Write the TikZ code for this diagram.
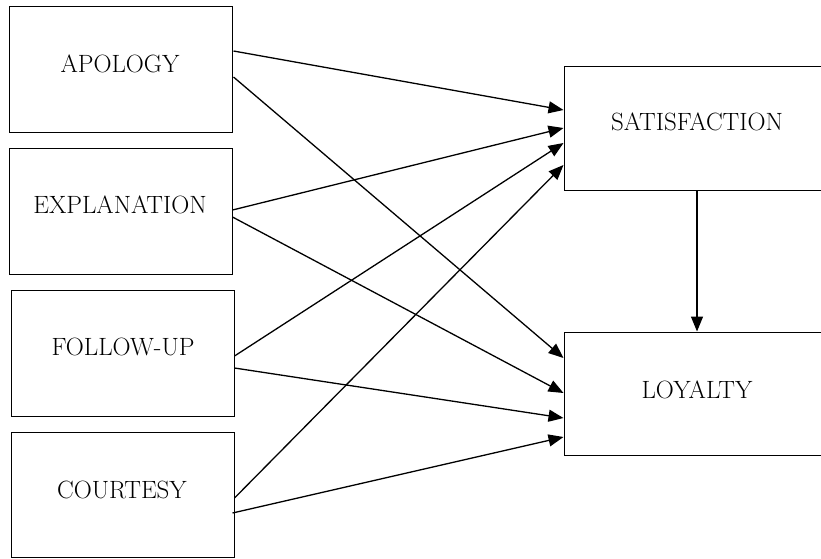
\documentclass[tikz,border=0pt]{standalone}
\usetikzlibrary{arrows.meta}
\begin{document}
\begin{tikzpicture}[x=1pt,y=-1pt,
  box/.style={draw,line width=1pt,rectangle,inner sep=0pt,minimum width=223pt,minimum height=126pt},
  rbox/.style={draw,line width=1pt,rectangle,inner sep=0pt,minimum width=266pt,minimum height=124pt},
  lab/.style={anchor=base,inner sep=0pt,font=\fontsize{25}{30}\selectfont},
  conn/.style={line width=1.3pt,-{Triangle[length=15pt,width=12pt]}}]
\useasboundingbox (0,0) rectangle (821,558);
\clip (0,0) rectangle (821,558);
\fill[white] (0,0) rectangle (821,558);
% boxes
\node[box] (apo) at (120.5,69) {};
\node[box] (exp) at (120.5,211) {};
\node[box] (fol) at (122.5,353) {};
\node[box,minimum height=125pt] (cou) at (122.5,494.5) {};
\node[rbox] (sat) at (697,128) {};
\node[rbox,minimum height=123pt] (loy) at (697,393.5) {};
% labels
\node[lab] (tapo) at (120,72) {APOLOGY};
\node[lab] (texp) at (120,213) {EXPLANATION};
\node[lab] (tfol) at (123,355) {FOLLOW-UP};
\node[lab] (tcou) at (122,498) {COURTESY};
\node[lab] (tsat) at (697,130) {SATISFACTION};
\node[lab] (tloy) at (697,398) {LOYALTY};
% connectors
\draw[conn] ([yshift=18pt,xshift=1pt]apo.east) -- ([yshift=18pt]sat.west);
\draw[conn] ([yshift=-8pt,xshift=1pt]apo.east) -- ([yshift=35.5pt]loy.west);
\draw[conn] ([yshift=1pt]exp.east) -- ([yshift=0pt]sat.west);
\draw[conn] ([yshift=-6pt]exp.east) -- ([yshift=0.5pt]loy.west);
\draw[conn] ([yshift=-3pt]fol.east) -- ([yshift=-15pt]sat.west);
\draw[conn] ([yshift=-15pt]fol.east) -- ([yshift=-24.5pt]loy.west);
\draw[conn] ([yshift=-3.5pt]cou.east) -- ([yshift=-37pt]sat.west);
\draw[conn] ([yshift=-18.5pt,xshift=-2pt]cou.east) -- ([yshift=-43.5pt]loy.west);
\draw[conn] (sat.south) -- (loy.north);
\end{tikzpicture}
\end{document}
